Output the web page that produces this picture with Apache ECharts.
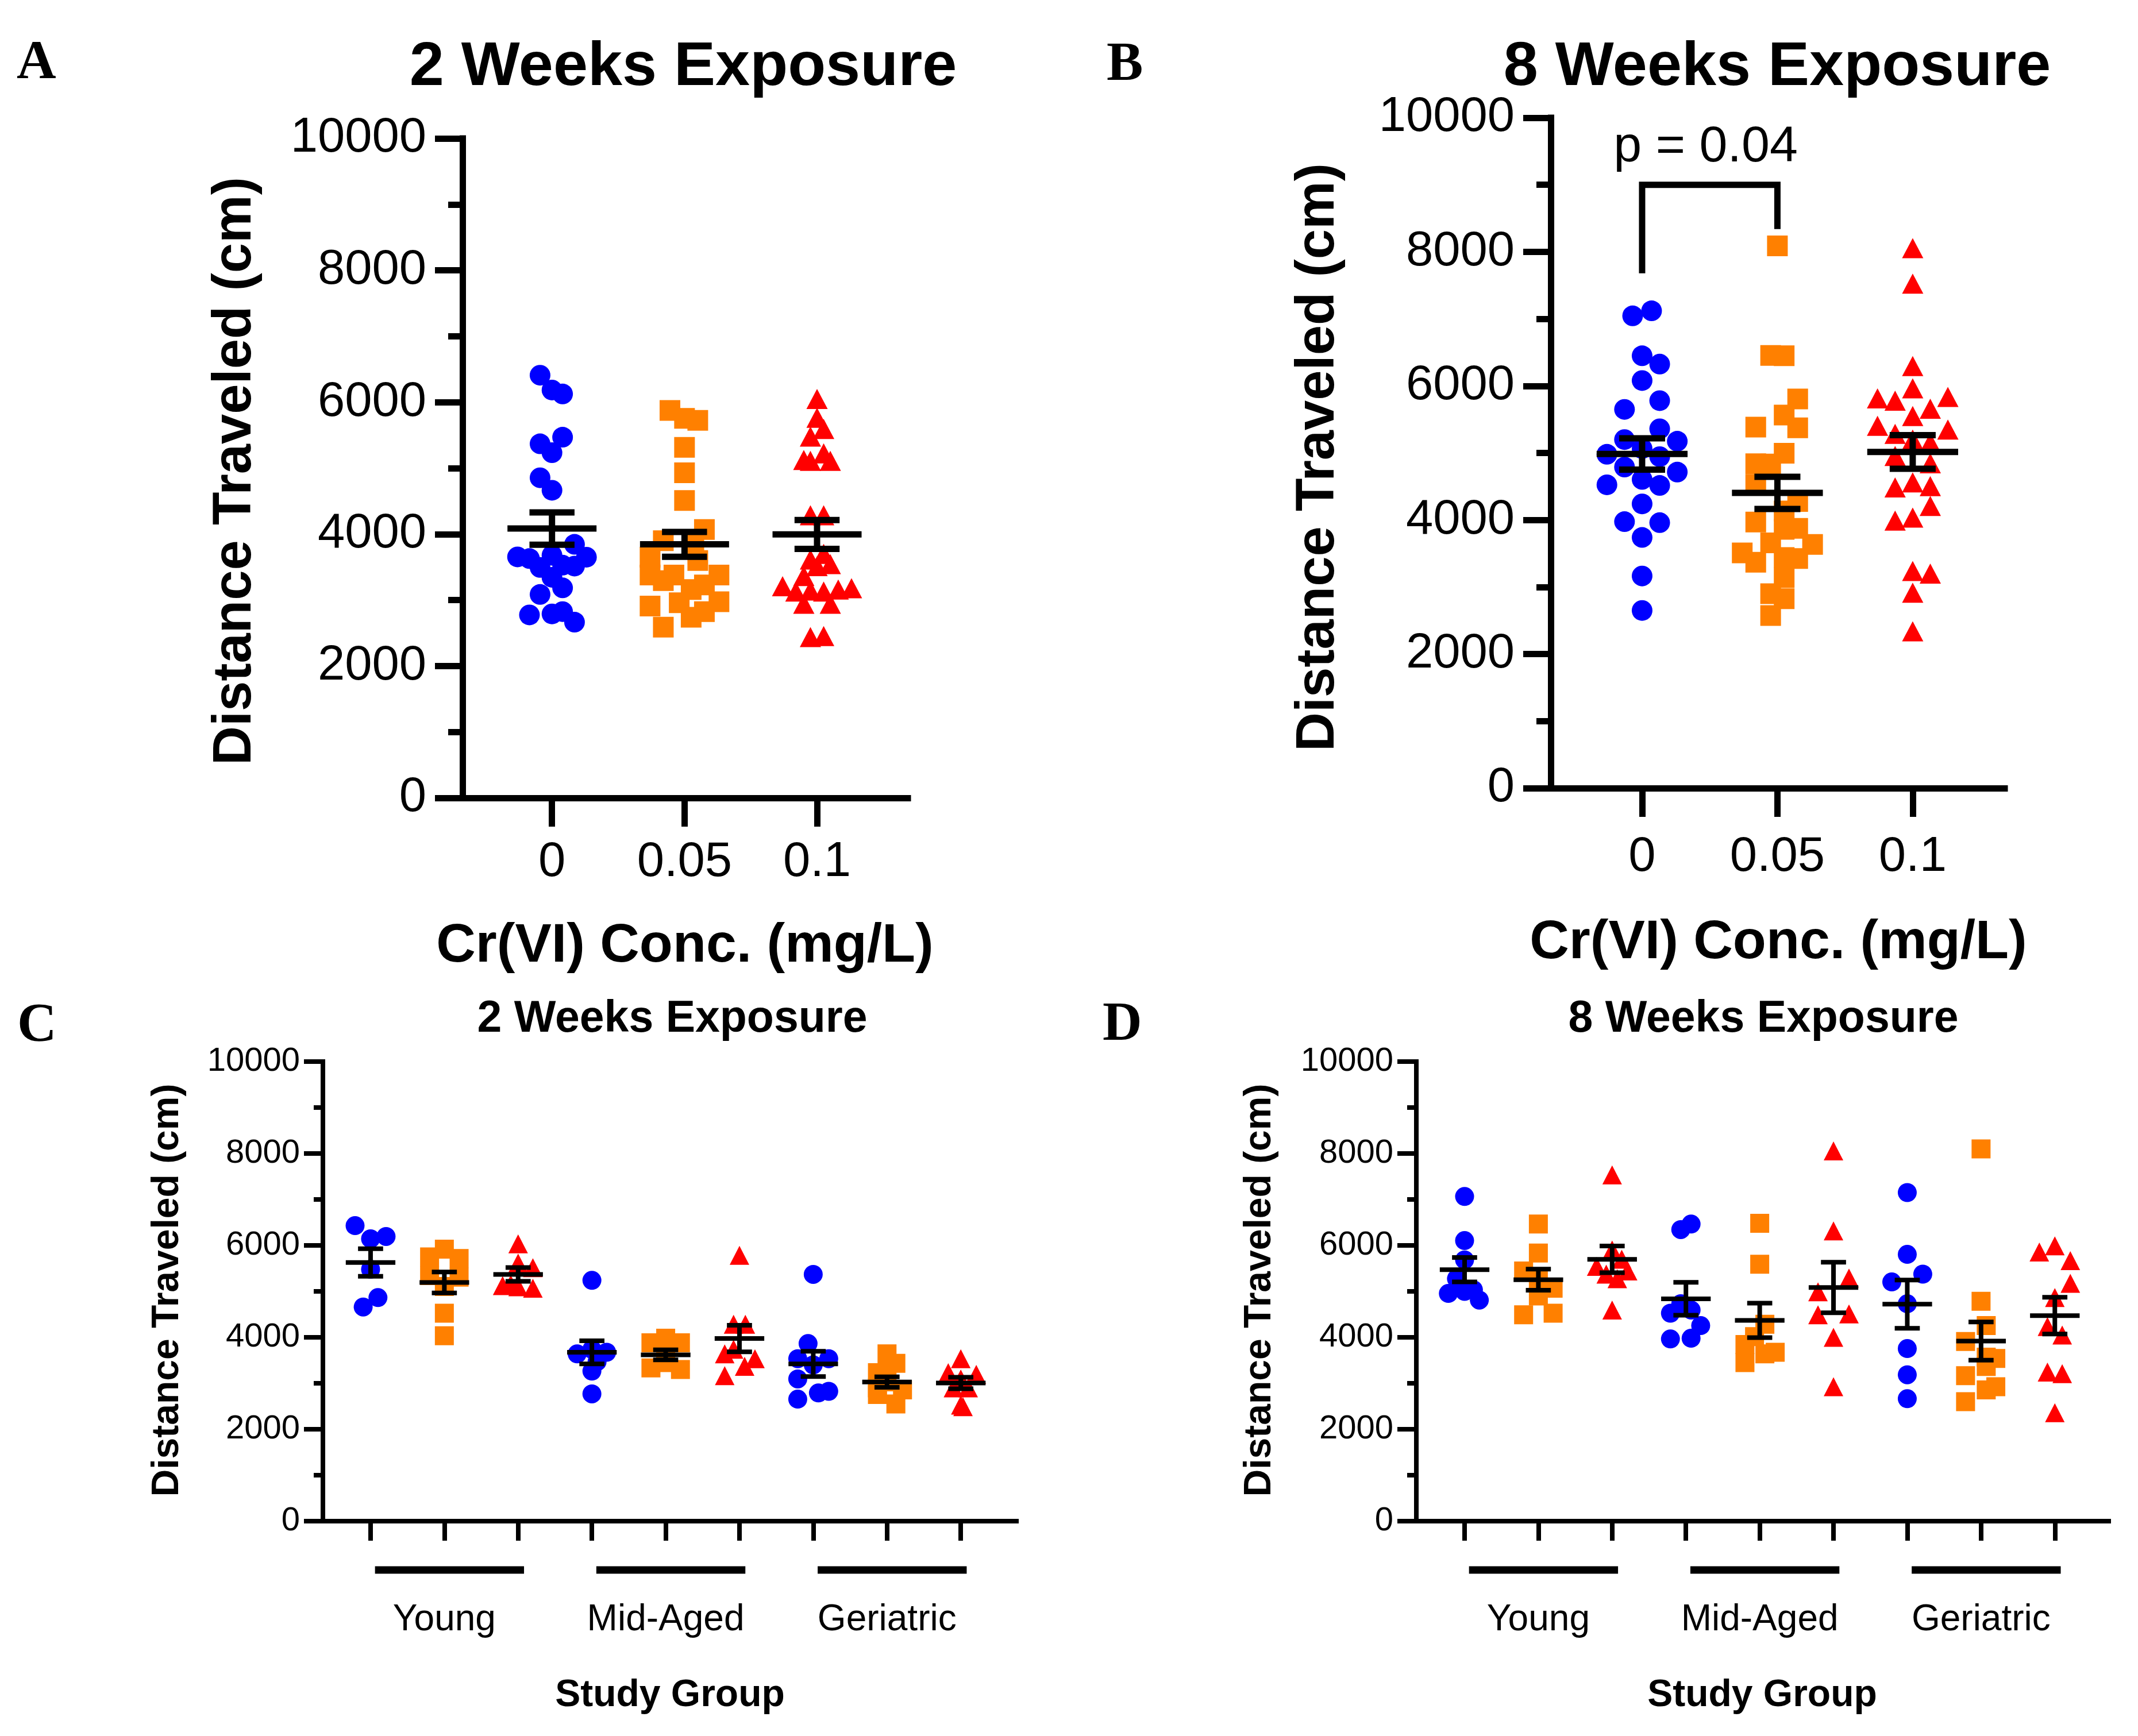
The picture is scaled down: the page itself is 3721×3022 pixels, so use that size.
<!DOCTYPE html>
<html>
<head>
<meta charset="utf-8">
<script src="https://cdn.jsdelivr.net/npm/echarts@6/dist/echarts.min.js"></script>
<style>
  html, body { margin: 0; background: #fff; }
  #chart { width: 3721px; height: 3022px; }
</style>
</head>
<body>
<div id="chart"></div>
<script>
// ---- data ----
const concLabels = ['0', '0.05', '0.1'];
const groupLabels = ['Young', 'Mid-Aged', 'Geriatric'];
const pText = 'p = 0.04';

// A: 2 weeks, all ages (values, and horizontal spread in category units)
const a2wCtrl = [6410, 6185, 6125, 5470, 5370, 5235, 4855, 4665, 3845, 3655, 3630, 3680, 3650, 3515, 3495, 3530, 3345, 3185, 3085, 2775, 2790, 2825, 2665];
const a2wCtrlJit = [-0.09, 0, 0.08, 0.08, -0.09, 0, -0.09, 0, 0.17, -0.26, -0.17, 0, 0.26, 0.17, -0.09, 0.08, 0, 0.08, -0.09, -0.17, 0, 0.08, 0.17];
const a2wLow = [5875, 5755, 5725, 5315, 4930, 4510, 4070, 3900, 3885, 3650, 3600, 3380, 3380, 3380, 3295, 3230, 3160, 2910, 2975, 2960, 2825, 2740, 2590];
const a2wLowJit = [-0.11, 0, 0.1, 0, 0, 0, 0.15, -0.16, 0.07, -0.26, 0.1, -0.26, -0.08, 0.26, -0.16, 0.15, 0.05, -0.26, 0.26, -0.04, 0.15, 0.05, -0.16];
const a2wHigh = [6050, 5765, 5595, 5480, 5125, 5110, 5225, 5110, 4285, 4285, 3700, 3615, 3545, 3515, 3365, 3210, 3180, 3130, 3145, 3130, 3160, 2945, 2945, 2440, 2455];
const a2wHighJit = [0, 0, 0.05, -0.05, -0.1, -0.05, 0.05, 0.1, -0.05, 0.05, 0.05, -0.05, 0.1, 0, -0.1, -0.26, 0.26, -0.16, -0.05, 0.05, 0.16, -0.1, 0.1, -0.05, 0.05];
const a2wMean = [4085, 3845, 3995];
const a2wSem = [245, 188, 218];

// B: 8 weeks, all ages
const b8wCtrl = [7045, 7120, 6450, 6325, 6080, 5780, 5650, 5360, 5200, 5175, 5065, 4980, 4945, 4790, 4715, 4605, 4525, 4515, 4240, 3975, 3960, 3740, 3165, 2650];
const b8wCtrlJit = [-0.07, 0.07, 0, 0.13, 0, 0.13, -0.13, 0.13, -0.13, 0.26, 0, -0.26, 0.13, -0.13, 0.26, 0, -0.26, 0.13, 0, -0.13, 0.13, 0, 0, 0];
const b8wLow = [8090, 6455, 6450, 5805, 5565, 5385, 5375, 4995, 4840, 4835, 4530, 4275, 4135, 3970, 3875, 3860, 3660, 3635, 3510, 3440, 3370, 3425, 3140, 2900, 2825, 2575];
const b8wLowJit = [0, -0.05, 0.05, 0.15, 0.05, -0.16, 0.15, 0.05, -0.16, -0.05, -0.16, 0.15, 0.05, -0.16, 0.15, 0.05, -0.05, 0.26, -0.26, 0.05, -0.16, 0.15, 0.05, -0.05, 0.05, -0.05];
const b8wHigh = [8055, 7525, 6295, 5965, 5815, 5780, 5835, 5660, 5550, 5405, 5350, 5285, 5200, 5155, 4955, 4845, 4560, 4485, 4505, 4210, 3990, 4035, 3240, 3200, 2915, 2340];
const b8wHighJit = [0, 0, 0, 0, -0.26, -0.13, 0.26, 0.13, 0, -0.26, 0.26, -0.13, 0, 0.13, -0.13, 0.13, 0, -0.13, 0.13, 0.13, -0.13, 0, 0, 0.13, 0, 0];
const b8wMean = [4985, 4405, 5015];
const b8wSem = [233, 240, 250];
const bBracket = [7680, 9000, 8340]; // left leg end, bar, right leg end

// C: 2 weeks by study group [Young, Mid-Aged, Geriatric]
const c2wCtrl = [[6430, 6145, 6195, 5480, 4865, 4660], [5240, 3640, 3675, 3740, 3470, 3265, 2770], [5370, 3865, 3535, 3535, 3400, 3095, 2655, 2790, 2825]];
const c2wCtrlJit = [[-0.21, 0, 0.21, 0, 0.1, -0.1], [0, -0.2, 0.2, 0, 0.07, 0, 0], [0, -0.07, -0.21, 0.21, 0, -0.21, -0.21, 0.07, 0.21]];
const c2wLow = [[5920, 5750, 5715, 5345, 5310, 5105, 4525, 4035], [3980, 3880, 3880, 3620, 3335, 3300, 3450], [3640, 3435, 3230, 2755, 2550, 2855, 3030, 2900]];
const c2wLowJit = [[0, -0.2, 0.2, -0.2, 0.2, 0, 0, 0], [0, -0.2, 0.2, 0, -0.2, 0.2, 0], [0, 0.12, -0.13, -0.13, 0.12, 0.21, 0, -0.13]];
const c2wHigh = [[6035, 5615, 5515, 5100, 5125, 5070, 5150], [5785, 4285, 4285, 3640, 3740, 3535, 3370, 3165], [3535, 3230, 3195, 3095, 2900, 2900, 2525, 2490]];
const c2wHighJit = [[0, 0, 0.2, 0, -0.21, 0.2, -0.1], [0, -0.08, 0.08, -0.2, -0.08, 0.21, 0.07, -0.2], [0, -0.17, 0.21, 0, 0.1, -0.1, 0, 0.03]];
const c2wMean = [5629, 5193, 5370, 3674, 3619, 3974, 3422, 3027, 3006];
const c2wSem = [300, 228, 150, 252, 110, 290, 276, 115, 125];

// D: 8 weeks by study group
const d8wCtrl = [[7065, 6105, 5685, 5275, 4955, 5000, 5035, 4810], [6345, 6465, 4525, 4595, 4255, 3965, 3980, 4730], [7150, 5805, 5375, 5205, 4730, 3755, 3185, 2665]];
const d8wCtrlJit = [[0, 0, 0, -0.11, -0.22, 0, 0.12, 0.2], [-0.07, 0.07, -0.21, 0.07, 0.2, -0.21, 0.07, -0.07], [0, 0, 0.21, -0.21, 0, 0, 0, 0]];
const d8wLow = [[6465, 5835, 5445, 5070, 4900, 4490, 4525, 5275], [6480, 5590, 4285, 4015, 3845, 3675, 3640, 3450], [8100, 4785, 4255, 3910, 3570, 3540, 3365, 3165, 2925, 2855, 2600]];
const d8wLowJit = [[0, 0, -0.2, 0.2, 0, -0.2, 0.2, 0], [0, 0, 0.07, -0.07, -0.2, 0.21, 0.07, -0.2], [0, 0, 0.07, -0.21, 0.07, 0.2, 0.07, -0.21, 0.2, 0.07, -0.21]];
const d8wHigh = [[7535, 5900, 5545, 5445, 5375, 5275, 4595, 5700], [8055, 6315, 5290, 4990, 4490, 4510, 4000, 2925], [5855, 5990, 5670, 5175, 4865, 4235, 4050, 3245, 3210, 2360]];
const d8wHighJit = [[0, 0, -0.21, 0.21, -0.08, 0.07, 0, 0.13], [0, 0, 0.21, -0.21, -0.21, 0.21, 0, 0], [-0.21, 0, 0.21, 0.21, 0, -0.1, 0.1, -0.1, 0.1, 0]];
const d8wMean = [5472, 5254, 5697, 4839, 4369, 5084, 4723, 3919, 4471];
const d8wSem = [266, 230, 290, 357, 375, 550, 525, 415, 400];

// ---- styling ----
const SANS = '"Liberation Sans", Arial, sans-serif';
const SERIF = '"Liberation Serif", "Times New Roman", serif';
const doses = [
    { color: '#0000ff', symbol: 'circle' },
    { color: '#ff8000', symbol: 'rect' },
    { color: '#ff0000', symbol: 'triangle' }
];

const panels = [
    { grid: { left: 805, top: 241, width: 775, height: 1148 }, xMin: -0.675, xMax: 2.685, big: true },
    { grid: { left: 2699, top: 205, width: 790, height: 1167 }, xMin: -0.675, xMax: 2.68, big: true },
    { grid: { left: 562, top: 1848, width: 1207, height: 800 }, xMin: -0.646, xMax: 8.754, big: false },
    { grid: { left: 2465, top: 1848, width: 1205, height: 800 }, xMin: -0.654, xMax: 8.73, big: false }
];

const chart = echarts.init(document.getElementById('chart'), null, { renderer: 'canvas' });

const pointSeries = (idx, x, vals, jit, dose, size) => ({
    type: 'scatter',
    xAxisIndex: idx,
    yAxisIndex: idx,
    symbol: doses[dose].symbol,
    symbolSize: size,
    itemStyle: { color: doses[dose].color, opacity: 1 },
    silent: true,
    z: 2,
    data: vals.map((v, i) => [x + jit[i], v])
});

const errorBars = (idx, means, sems, lw) => ({
    type: 'custom',
    xAxisIndex: idx,
    yAxisIndex: idx,
    silent: true,
    z: 5,
    data: means.map((m, i) => [i, m, sems[i]]),
    renderItem: (params, api) => {
        const x = api.value(0), m = api.value(1), s = api.value(2);
        const mid = api.coord([x, m]);
        const hi = api.coord([x, m + s]);
        const lo = api.coord([x, m - s]);
        const meanHalf = api.size([0.336, 0])[0];
        const capHalf = api.size([0.17, 0])[0];
        const seg = (x1, y1, x2, y2) => ({
            type: 'line',
            shape: { x1, y1, x2, y2 },
            style: { stroke: '#000', lineWidth: lw }
        });
        return {
            type: 'group',
            children: [
                seg(mid[0] - meanHalf, mid[1], mid[0] + meanHalf, mid[1]),
                seg(hi[0], hi[1], lo[0], lo[1]),
                seg(hi[0] - capHalf, hi[1], hi[0] + capHalf, hi[1]),
                seg(lo[0] - capHalf, lo[1], lo[0] + capHalf, lo[1])
            ]
        };
    }
});

const series = [];
// A and B: one column per concentration
[[a2wCtrl, a2wCtrlJit, a2wLow, a2wLowJit, a2wHigh, a2wHighJit], [b8wCtrl, b8wCtrlJit, b8wLow, b8wLowJit, b8wHigh, b8wHighJit]]
    .forEach((sets, idx) => {
        for (let d = 0; d < 3; d++) {
            series.push(pointSeries(idx, d, sets[d * 2], sets[d * 2 + 1], d, d === 2 ? [37, 35] : 36));
        }
    });
series.push(errorBars(0, a2wMean, a2wSem, 11));
series.push(errorBars(1, b8wMean, b8wSem, 11));

// C and D: three concentrations inside each study group
[[c2wCtrl, c2wCtrlJit, c2wLow, c2wLowJit, c2wHigh, c2wHighJit], [d8wCtrl, d8wCtrlJit, d8wLow, d8wLowJit, d8wHigh, d8wHighJit]]
    .forEach((sets, k) => {
        const idx = k + 2;
        for (let g = 0; g < 3; g++) {
            for (let d = 0; d < 3; d++) {
                series.push(pointSeries(idx, g * 3 + d, sets[d * 2][g], sets[d * 2 + 1][g], d, d === 2 ? [34, 33] : 33));
            }
        }
    });
series.push(errorBars(2, c2wMean, c2wSem, 8));
series.push(errorBars(3, d8wMean, d8wSem, 8));

// significance bracket in B
series.push({
    type: 'line',
    xAxisIndex: 1,
    yAxisIndex: 1,
    symbol: 'none',
    silent: true,
    z: 6,
    lineStyle: { color: '#000', width: 11, join: 'miter', cap: 'butt' },
    data: [[0, bBracket[0]], [0, bBracket[1]], [1, bBracket[1]], [1, bBracket[2]]]
});

const xAxes = panels.map((p, idx) => {
    const lw = p.big ? 11 : 8;
    const ticks = p.big ? [0, 1, 2] : [0, 1, 2, 3, 4, 5, 6, 7, 8];
    return {
        type: 'value',
        gridIndex: idx,
        position: 'bottom',
        min: p.xMin,
        max: p.xMax,
        splitLine: { show: false },
        axisLine: { show: true, onZero: false, lineStyle: { color: '#000', width: lw, cap: 'square' } },
        axisTick: { show: true, customValues: ticks, length: p.big ? 50 : 34, lineStyle: { color: '#000', width: lw } },
        axisLabel: p.big ? {
            customValues: [0, 1, 2],
            formatter: v => concLabels[Math.round(v)],
            margin: idx === 0 ? 70 : 78,
            fontSize: 85,
            fontFamily: SANS,
            color: '#000'
        } : {
            customValues: [1, 4, 7],
            formatter: v => groupLabels[Math.round((v - 1) / 3)],
            margin: 140,
            fontSize: 64,
            fontFamily: SANS,
            color: '#000'
        }
    };
});

const yAxes = panels.map((p, idx) => {
    const lw = p.big ? 11 : 8;
    return {
        type: 'value',
        gridIndex: idx,
        position: 'left',
        min: 0,
        max: 10000,
        interval: 2000,
        splitLine: { show: false },
        minorSplitLine: { show: false },
        axisLine: { show: true, onZero: false, lineStyle: { color: '#000', width: lw, cap: 'square' } },
        axisTick: { show: true, length: p.big ? 48 : 33, lineStyle: { color: '#000', width: lw } },
        minorTick: { show: true, splitNumber: 2, length: p.big ? 25 : 16, lineStyle: { color: '#000', width: lw } },
        axisLabel: {
            margin: p.big ? 63 : 40,
            fontSize: p.big ? 85 : 58,
            fontFamily: SANS,
            color: '#000',
            formatter: v => String(v)
        }
    };
});

const text = (str, x, y, size, opts = {}) => ({
    type: 'text',
    x,
    y,
    rotation: opts.rotation || 0,
    silent: true,
    style: {
        text: str,
        fill: '#000',
        fontSize: size,
        fontWeight: opts.weight || 'normal',
        fontFamily: opts.family || SANS,
        align: opts.align || 'center',
        verticalAlign: 'middle'
    }
});

const staticText = [
    text('A', 29, 111, 95, { family: SERIF, weight: 'bold', align: 'left' }),
    text('B', 1926, 114, 95, { family: SERIF, weight: 'bold', align: 'left' }),
    text('C', 30, 1787, 95, { family: SERIF, weight: 'bold', align: 'left' }),
    text('D', 1919, 1785, 95, { family: SERIF, weight: 'bold', align: 'left' }),
    text('2 Weeks Exposure', 1189, 118, 108, { weight: 'bold' }),
    text('8 Weeks Exposure', 3093, 118, 108, { weight: 'bold' }),
    text('2 Weeks Exposure', 1170, 1775, 77, { weight: 'bold' }),
    text('8 Weeks Exposure', 3069, 1775, 77, { weight: 'bold' }),
    text('Distance Traveled (cm)', 410, 820, 94, { weight: 'bold', rotation: Math.PI / 2 }),
    text('Distance Traveled (cm)', 2295, 796, 94, { weight: 'bold', rotation: Math.PI / 2 }),
    text('Distance Traveled (cm)', 292, 2246, 66, { weight: 'bold', rotation: Math.PI / 2 }),
    text('Distance Traveled (cm)', 2193, 2246, 66, { weight: 'bold', rotation: Math.PI / 2 }),
    text('Cr(VI) Conc. (mg/L)', 1192, 1648, 95, { weight: 'bold' }),
    text('Cr(VI) Conc. (mg/L)', 3095, 1642, 95, { weight: 'bold' }),
    text('Study Group', 1166, 2952, 66, { weight: 'bold' }),
    text('Study Group', 3067, 2952, 66, { weight: 'bold' })
];

chart.setOption({
    animation: false,
    backgroundColor: '#fff',
    grid: panels.map(p => Object.assign({ outerBoundsMode: 'none', containLabel: false }, p.grid)),
    xAxis: xAxes,
    yAxis: yAxes,
    series: series,
    graphic: staticText
});

// annotations placed through the axes: group brackets under C/D, p value over B
const extra = [];
[2, 3].forEach(idx => {
    for (let g = 0; g < 3; g++) {
        const a = chart.convertToPixel({ gridIndex: idx }, [g * 3 + 0.06, 0]);
        const b = chart.convertToPixel({ gridIndex: idx }, [g * 3 + 2.08, 0]);
        extra.push({
            type: 'line',
            silent: true,
            shape: { x1: a[0], y1: a[1] + 85, x2: b[0], y2: b[1] + 85 },
            style: { stroke: '#000', lineWidth: 13 }
        });
    }
});
const pPos = chart.convertToPixel({ gridIndex: 1 }, [0.47, 9560]);
extra.push(text(pText, pPos[0], pPos[1], 88));

chart.setOption({ graphic: staticText.concat(extra) });
</script>
</body>
</html>
